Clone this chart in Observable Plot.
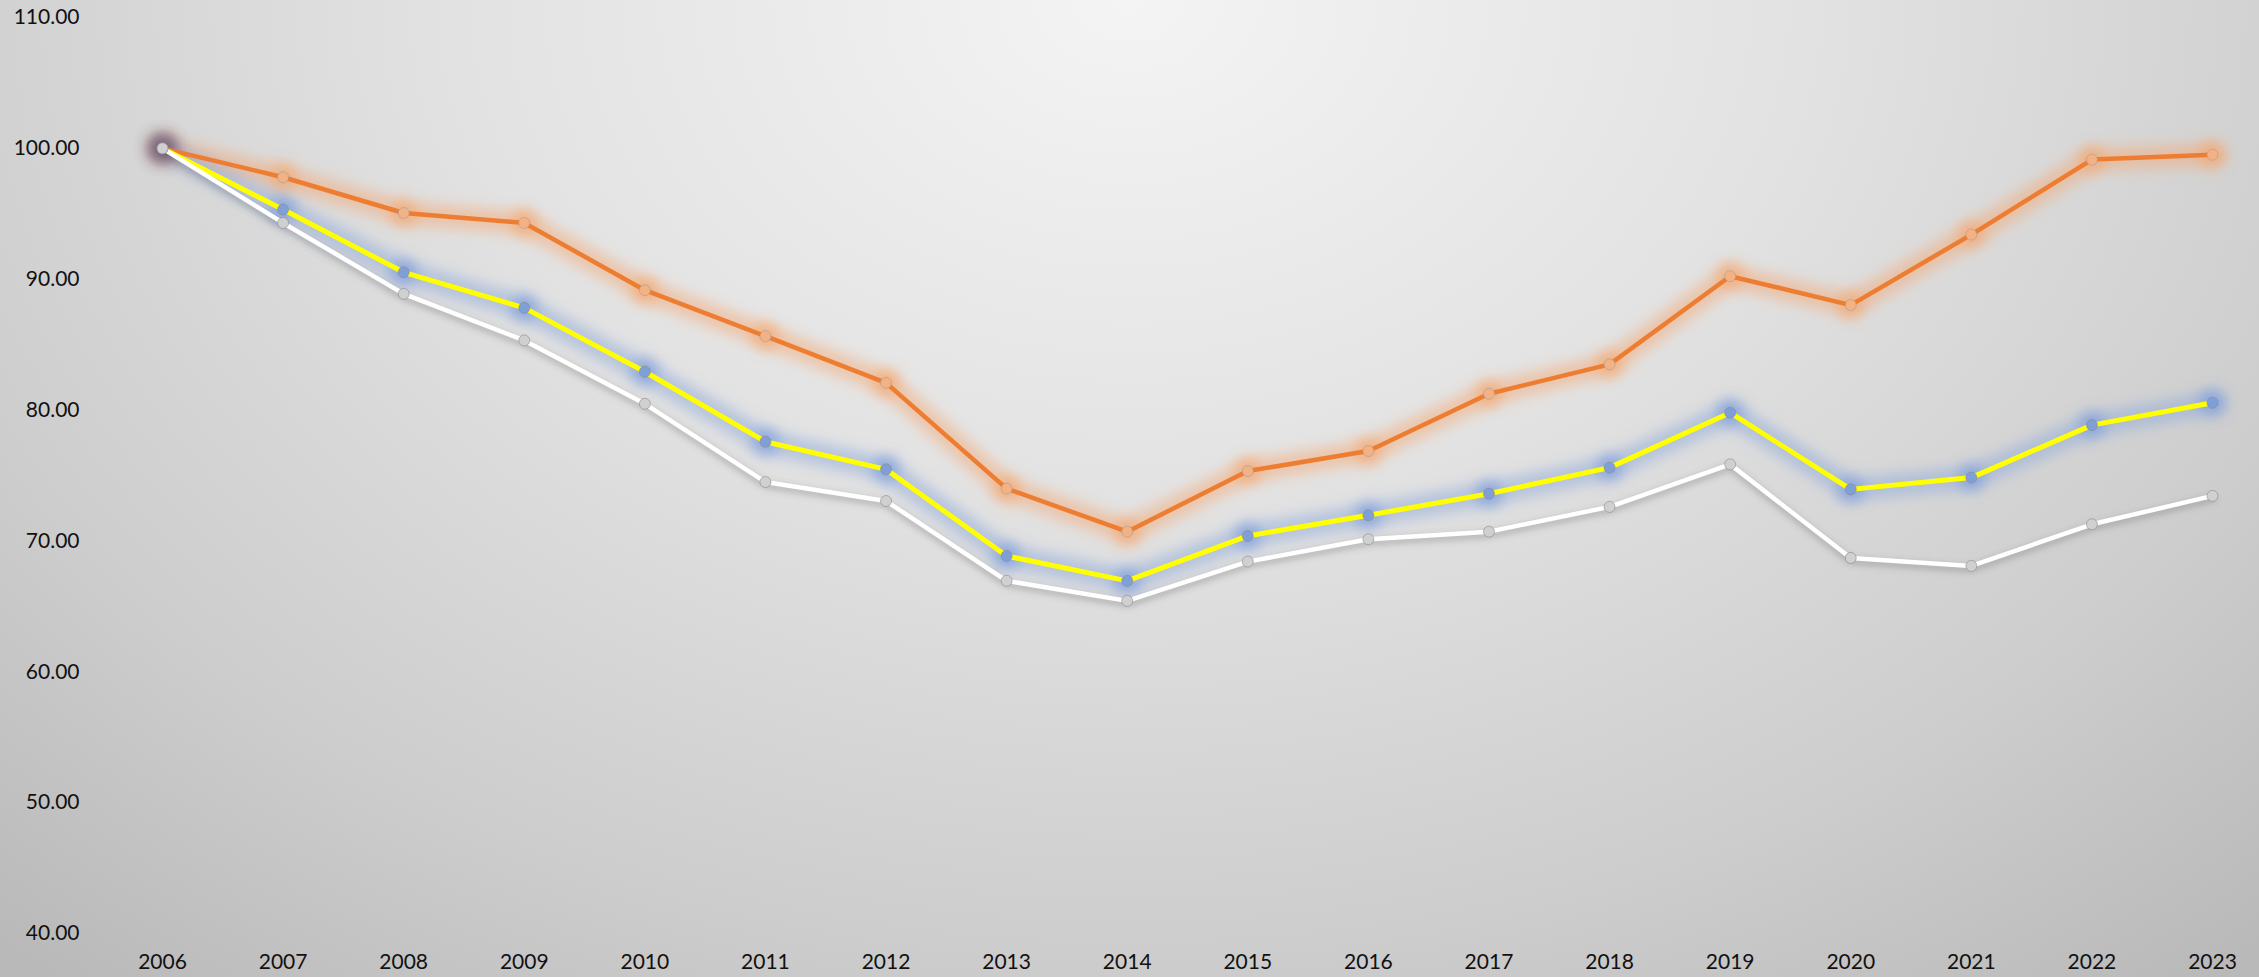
<!DOCTYPE html>
<html>
<head>
<meta charset="utf-8">
<script src="https://cdn.jsdelivr.net/npm/d3@7"></script>
<script src="https://cdn.jsdelivr.net/npm/@observablehq/plot@0.6"></script>
<style>
  html, body { margin: 0; padding: 0; overflow: hidden; }
  body { width: 2259px; height: 977px; }
</style>
</head>
<body>
<div id="chart"></div>
<script>
const years = [2006, 2007, 2008, 2009, 2010, 2011, 2012, 2013, 2014, 2015, 2016, 2017, 2018, 2019, 2020, 2021, 2022, 2023];
const orangeSeries = [100, 97.79, 95.06, 94.30, 89.16, 85.65, 82.08, 74.00, 70.71, 75.34, 76.87, 81.25, 83.49, 90.23, 88.02, 93.41, 99.14, 99.52];
const yellowSeries = [100, 95.32, 90.53, 87.81, 82.93, 77.58, 75.47, 68.85, 66.95, 70.38, 71.96, 73.61, 75.60, 79.80, 73.94, 74.84, 78.85, 80.56];
const whiteSeries  = [100, 94.30, 88.88, 85.32, 80.48, 74.50, 73.05, 66.95, 65.42, 68.42, 70.13, 70.71, 72.60, 75.85, 68.70, 68.09, 71.27, 73.44];
const yTicks = [40, 50, 60, 70, 80, 90, 100, 110];

const toRows = (vals) => years.map((year, i) => ({year, value: vals[i]}));
const orange = toRows(orangeSeries);
const yellow = toRows(yellowSeries);
const white = toRows(whiteSeries);

const glow = (data, color, tag, width, opacity) =>
  Plot.line(data, {x: "year", y: "value", stroke: color, strokeWidth: width, strokeOpacity: opacity,
    strokeLinejoin: "round", strokeLinecap: "round", ariaDescription: tag});
const glowDots = (data, color, tag) =>
  Plot.dot(data, {x: "year", y: "value", r: 13, fill: color, fillOpacity: 0.7, stroke: "none", ariaDescription: tag});

const chart = Plot.plot({
  width: 2259,
  height: 977,
  marginTop: 17,
  marginBottom: 44,
  marginLeft: 162,
  marginRight: 47,
  style: {
    fontFamily: "Lato, 'Open Sans', sans-serif",
    fontSize: "21px",
    color: "#111",
    background: "radial-gradient(ellipse 75% 130% at 50% 0%, #f4f4f4 0%, #e2e2e2 40%, #cdcdcd 75%, #b9b9b9 100%)",
    overflow: "visible"
  },
  x: {domain: [2006, 2023], ticks: years, tickFormat: d => String(d), label: null},
  y: {domain: [40, 110], ticks: yTicks, tickFormat: d3.format(".2f"), label: null},
  marks: [
    Plot.axisY({ticks: yTicks, tickFormat: d3.format(".2f"), tickSize: 0, tickPadding: 83, label: null, fontSize: 21, fill: "#111"}),
    Plot.axisX({ticks: years, tickFormat: d => String(d), tickSize: 0, tickPadding: 21, label: null, fontSize: 21, fill: "#111"}),
    // glows / shadows
    glow(orange, "#f5a66e", "glow-orange", 22, 0.5),
    glowDots(orange, "#f5a66e", "glow-dot-orange"),
    glow(yellow, "#8eaadb", "glow-yellow", 22, 0.55),
    glowDots(yellow, "#7b9bdc", "glow-dot-yellow"),
    Plot.line(white, {x: "year", y: "value", dy: 3, stroke: "#5a5a5a", strokeWidth: 7, strokeOpacity: 0.3,
      strokeLinejoin: "round", ariaDescription: "shadow-white"}),
    Plot.dot([orange[0]], {x: "year", y: "value", r: 15, fill: "#5e2f35", fillOpacity: 0.55, ariaDescription: "glow-first"}),
    // lines
    Plot.line(orange, {x: "year", y: "value", stroke: "#ed7d31", strokeWidth: 4.5, strokeLinejoin: "round"}),
    Plot.line(yellow, {x: "year", y: "value", stroke: "#ffff00", strokeWidth: 5, strokeLinejoin: "round"}),
    Plot.line(white, {x: "year", y: "value", stroke: "#ffffff", strokeWidth: 4.5, strokeLinejoin: "round"}),
    // markers
    Plot.dot(orange, {x: "year", y: "value", r: 5.5, fill: "#f4b183", stroke: "#a0a0a0", strokeWidth: 0.6}),
    Plot.dot(yellow, {x: "year", y: "value", r: 5.5, fill: "#7f9fd8", stroke: "#8a8a8a", strokeWidth: 0.6}),
    Plot.dot(white, {x: "year", y: "value", r: 5.5, fill: "#d0d0d0", stroke: "#8a8a8a", strokeWidth: 0.6})
  ]
});

// SVG blur filters for glow and shadow groups
const svg = d3.select(chart);
const defs = svg.insert("defs", ":first-child");
defs.append("filter").attr("id", "glowBlur").attr("filterUnits", "userSpaceOnUse")
  .attr("x", 0).attr("y", 0).attr("width", 2259).attr("height", 977)
  .append("feGaussianBlur").attr("stdDeviation", 7);
defs.append("filter").attr("id", "shadowBlur").attr("filterUnits", "userSpaceOnUse")
  .attr("x", 0).attr("y", 0).attr("width", 2259).attr("height", 977)
  .append("feGaussianBlur").attr("stdDeviation", 3);
svg.selectAll('g[aria-description^="glow"]').attr("filter", "url(#glowBlur)");
svg.selectAll('g[aria-description^="shadow"]').attr("filter", "url(#shadowBlur)");

document.getElementById("chart").appendChild(chart);
</script>
</body>
</html>
